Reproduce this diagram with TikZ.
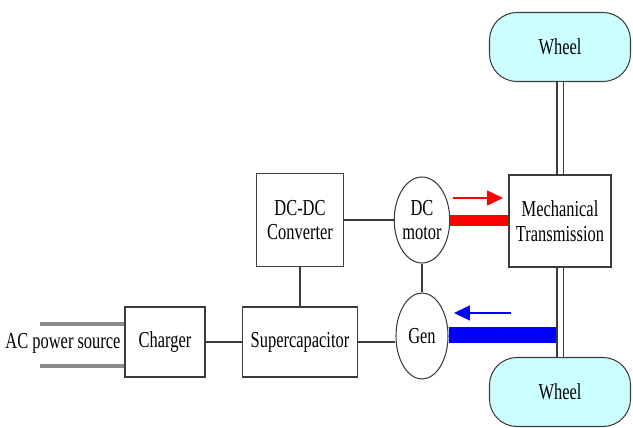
\documentclass[tikz,border=0pt]{standalone}
\usepackage{fontspec}
\setmainfont{Liberation Serif}[FakeStretch=0.72]
\usepackage{tikz}
\usetikzlibrary{arrows.meta,positioning,shapes.geometric}
\definecolor{pwheel}{RGB}{204,255,255}
\definecolor{pline}{RGB}{60,60,60}
\definecolor{pacgray}{RGB}{140,140,140}
\definecolor{pred}{RGB}{255,0,0}
\definecolor{pblue}{RGB}{0,0,255}
\tikzset{
  block/.style={rectangle,draw=pline,line width=0.6pt,fill=white,align=center,
                font=\fontsize{13}{14}\selectfont,inner sep=1pt},
  machine/.style={ellipse,draw=pline,line width=0.6pt,fill=white,align=center,
                  minimum width=1.04cm,minimum height=1.72cm,inner sep=0pt,
                  font=\fontsize{13}{14}\selectfont},
  wheel/.style={rectangle,rounded corners=0.55cm,draw=pline,line width=0.6pt,
                fill=pwheel,minimum width=2.82cm,minimum height=1.38cm,
                font=\fontsize{13}{14}\selectfont},
  link/.style={pline,line width=0.6pt},
  shaft/.style={draw=pline,line width=0.6pt,double=white,double distance=0.1cm},
  acline/.style={pacgray,line width=2pt},
  flowred/.style={-{Triangle[length=3.2mm,width=3mm]},pred,line width=0.8pt},
  flowblue/.style={-{Triangle[length=3.2mm,width=3mm]},pblue,line width=0.8pt},
}
\begin{document}
\begin{tikzpicture}[x=0.02cm,y=-0.02cm]
  \useasboundingbox (0,0) rectangle (633,427);
  % wheels and transmission
  \node[wheel] (wtop) at (560,47)  {Wheel};
  \node[wheel] (wbot) at (560,392) {Wheel};
  \node[block,minimum width=2.04cm,minimum height=1.84cm] (mech) at (560,221)
     {Mechanical\\Transmission};
  % electric machines
  \node[machine] (motor) at (422,220) {DC\\motor};
  \node[machine] (gen)   at (422,336) {Gen};
  % power electronics
  \node[block,minimum width=1.74cm,minimum height=1.86cm] (conv) at (300,220)
     {DC-DC\\Converter};
  \node[block,minimum width=2.30cm,minimum height=1.40cm] (scap) at (300,342)
     {Supercapacitor};
  \node[block,minimum width=1.60cm,minimum height=1.40cm] (chg)  at (165,342)
     {Charger};
  \node[font=\fontsize{13}{14}\selectfont,inner sep=0pt] (ac) at (63,343)
     {AC power source};
  % AC feed
  \coordinate (ac1) at (40,324);
  \coordinate (ac2) at (40,366);
  \draw[acline] (ac1) -- (ac1 -| chg.west);
  \draw[acline] (ac2) -- (ac2 -| chg.west);
  % electrical links
  \draw[link] (chg) -- (scap);
  \draw[link] (scap.east) -- (scap.east -| gen.west);
  \draw[link] (conv.south) -- (conv.south |- scap.north);
  \draw[link] (conv) -- (motor);
  \draw[link] (motor) -- (gen);
  % power flows
  \coordinate (sh) at (557,335);
  \draw[pred,line width=0.22cm] (motor.east) -- (mech.west |- motor.east);
  \draw[pblue,line width=0.32cm] (gen.east |- sh) -- (sh);
  \draw[shaft] (wtop.south) -- (mech.north);
  \draw[shaft] (mech.south) -- (wbot.north);
  \coordinate (ra) at (453,198);
  \coordinate (rb) at (503,198);
  \coordinate (ba) at (511,313);
  \coordinate (bb) at (454,313);
  \draw[flowred]  (ra) -- (rb);
  \draw[flowblue] (ba) -- (bb);
\end{tikzpicture}
\end{document}
